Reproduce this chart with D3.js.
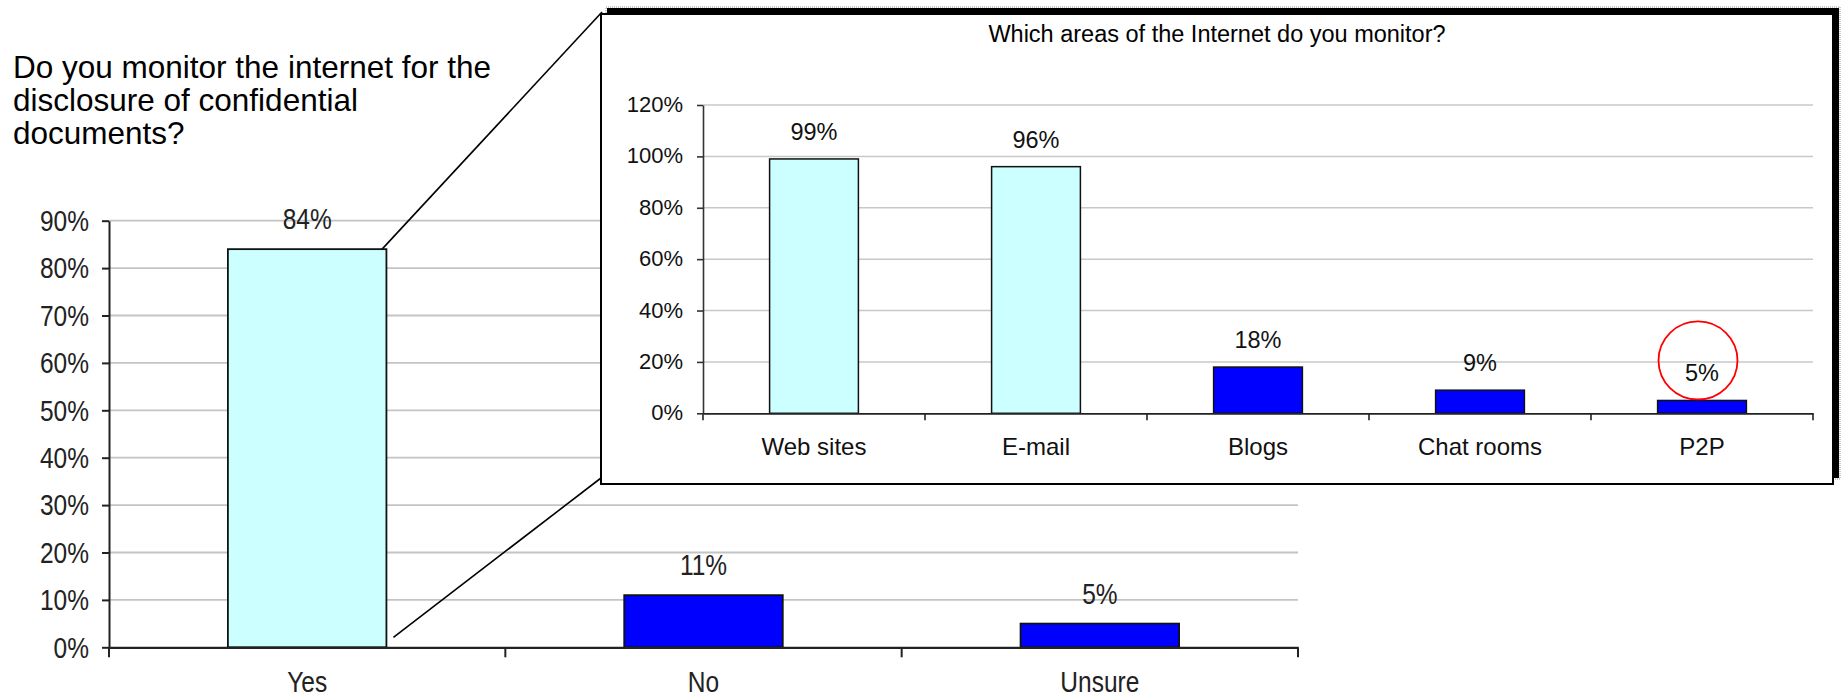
<!DOCTYPE html>
<html>
<head>
<meta charset="utf-8">
<script src="https://cdn.jsdelivr.net/npm/d3@7"></script>
<style>
  html, body { margin: 0; padding: 0; background: #fff; }
  svg { display: block; font-family: "Liberation Sans", Arial, sans-serif; }
</style>
</head>
<body>
<svg id="chart" width="1843" height="699"></svg>
<script>
// Main survey question
const mainQuestion = ["Do you monitor the internet for the", "disclosure of confidential", "documents?"];
const mainCategories = ["Yes", "No", "Unsure"];
const mainValues = [84, 11, 5];
const mainTicks = [0, 10, 20, 30, 40, 50, 60, 70, 80, 90];

// Follow-up question shown in the call-out panel
const areaTitle = "Which areas of the Internet do you monitor?";
const areaCategories = ["Web sites", "E-mail", "Blogs", "Chat rooms", "P2P"];
const areaValues = [99, 96, 18, 9, 5];
const areaTicks = [0, 20, 40, 60, 80, 100, 120];
const circledArea = "P2P";

const LIGHT = "#ccffff", DARK = "#0000ff";
const fillFor = v => v >= 50 ? LIGHT : DARK;
const pct = v => v + "%";

const svg = d3.select("#chart");

// ---------- main chart ----------
const M = { left: 109, right: 1298, top: 220.7, bottom: 647.3 };
const mainStretch = 1.2;      // tall, narrow lettering of the main chart

const x1 = d3.scaleBand().domain(mainCategories).range([M.left, M.right])
  .paddingInner(0.6).paddingOuter(0.3);
const y1 = d3.scaleLinear().domain([0, 90]).range([M.bottom, M.top]);

// question text
svg.append("text")
  .attr("font-size", 31.5).attr("fill", "#000")
  .selectAll("tspan").data(mainQuestion).join("tspan")
  .attr("x", 13).attr("y", (d, i) => 78 + i * 33)
  .text(d => d);

const g1 = svg.append("g");

// gridlines
g1.append("g").selectAll("line").data(mainTicks.filter(t => t > 0)).join("line")
  .attr("x1", M.left).attr("x2", M.right)
  .attr("y1", d => y1(d)).attr("y2", d => y1(d))
  .attr("stroke", "#c4c4c4").attr("stroke-width", 1.8);

// connector lines from the "Yes" bar to the call-out panel
const yesRight = x1("Yes") + x1.bandwidth();
g1.append("line")
  .attr("x1", yesRight - 9).attr("y1", y1(mainValues[0]) + 5)
  .attr("x2", 602).attr("y2", 12)
  .attr("stroke", "#000").attr("stroke-width", 1.6);
g1.append("line")
  .attr("x1", yesRight + 7).attr("y1", y1(0) - 10)
  .attr("x2", 601).attr("y2", 478)
  .attr("stroke", "#000").attr("stroke-width", 1.6);

// bars
g1.append("g").selectAll("rect").data(mainCategories).join("rect")
  .attr("x", d => x1(d)).attr("width", x1.bandwidth())
  .attr("y", (d, i) => y1(mainValues[i]))
  .attr("height", (d, i) => y1(0) - y1(mainValues[i]))
  .attr("fill", (d, i) => fillFor(mainValues[i]))
  .attr("stroke", "#111").attr("stroke-width", 1.8);

// value labels
g1.append("g").selectAll("text").data(mainCategories).join("text")
  .attr("transform", (d, i) => `translate(${x1(d) + x1.bandwidth() / 2},${y1(mainValues[i]) - 20}) scale(1,${mainStretch})`)
  .attr("text-anchor", "middle").attr("font-size", 24.5).attr("fill", "#222")
  .text((d, i) => pct(mainValues[i]));

// y axis
const yAxis1 = g1.append("g").attr("transform", `translate(${M.left},0)`)
  .call(d3.axisLeft(y1).tickValues(mainTicks).tickFormat(pct)
    .tickSize(7).tickSizeOuter(0).tickPadding(13));
yAxis1.selectAll("path,line").attr("stroke", "#222").attr("stroke-width", 2);
yAxis1.selectAll("text")
  .attr("font-size", 24.5).attr("font-family", "Liberation Sans, Arial, sans-serif")
  .attr("fill", "#222").attr("dy", "0.33em")
  .attr("transform", `scale(1,${mainStretch})`);

// x axis: category names centred in their bands
const xAxis1 = g1.append("g").attr("transform", `translate(0,${M.bottom})`)
  .call(d3.axisBottom(x1).tickSize(0).tickSizeOuter(0));
xAxis1.select(".domain").attr("stroke", "#222").attr("stroke-width", 2.2);
xAxis1.selectAll("text")
  .attr("font-size", 24.5).attr("font-family", "Liberation Sans, Arial, sans-serif")
  .attr("fill", "#222").attr("y", 0).attr("dy", 0)
  .attr("transform", `translate(0,44.5) scale(1,${mainStretch})`);

// category separators below the axis
const bounds1 = mainCategories.map(d => x1(d) - (x1.step() - x1.bandwidth()) / 2).concat([M.right]);
g1.append("g").selectAll("line").data(bounds1).join("line")
  .attr("x1", d => d).attr("x2", d => d)
  .attr("y1", M.bottom).attr("y2", M.bottom + 10)
  .attr("stroke", "#222").attr("stroke-width", 2);

// ---------- call-out panel ----------
const P = { x: 601, y: 14, w: 1232, h: 470, shadow: 6 };

svg.append("rect")
  .attr("x", P.x + P.shadow - 1).attr("y", P.y - P.shadow - 1)
  .attr("width", P.w + 2).attr("height", P.h + 2)
  .attr("fill", "none").attr("stroke", "#999").attr("stroke-width", 1)
  .attr("stroke-dasharray", "1,1");
svg.append("rect")
  .attr("x", P.x + P.shadow).attr("y", P.y - P.shadow)
  .attr("width", P.w).attr("height", P.h).attr("fill", "#000");
svg.append("rect")
  .attr("x", P.x).attr("y", P.y).attr("width", P.w).attr("height", P.h)
  .attr("fill", "#fff").attr("stroke", "#000").attr("stroke-width", 2);

const A = { left: 703, right: 1813, top: 105, bottom: 413.3 };
const x2 = d3.scaleBand().domain(areaCategories).range([A.left, A.right])
  .paddingInner(0.6).paddingOuter(0.3);
const y2 = d3.scaleLinear().domain([0, 120]).range([A.bottom, A.top]);

const g2 = svg.append("g");

g2.append("text")
  .attr("x", P.x + P.w / 2).attr("y", 42).attr("text-anchor", "middle")
  .attr("font-size", 23.5).attr("fill", "#000")
  .text(areaTitle);

g2.append("g").selectAll("line").data(areaTicks.filter(t => t > 0)).join("line")
  .attr("x1", A.left).attr("x2", A.right)
  .attr("y1", d => y2(d)).attr("y2", d => y2(d))
  .attr("stroke", "#c8c8c8").attr("stroke-width", 1.5);

g2.append("g").selectAll("rect").data(areaCategories).join("rect")
  .attr("x", d => x2(d)).attr("width", x2.bandwidth())
  .attr("y", (d, i) => y2(areaValues[i]))
  .attr("height", (d, i) => y2(0) - y2(areaValues[i]))
  .attr("fill", (d, i) => fillFor(areaValues[i]))
  .attr("stroke", "#111").attr("stroke-width", 1.5);

g2.append("g").selectAll("text").data(areaCategories).join("text")
  .attr("x", d => x2(d) + x2.bandwidth() / 2)
  .attr("y", (d, i) => y2(areaValues[i]) - 19)
  .attr("text-anchor", "middle").attr("font-size", 23.5).attr("fill", "#111")
  .text((d, i) => pct(areaValues[i]));

// red ring around the highlighted label
const ci = areaCategories.indexOf(circledArea);
g2.append("ellipse")
  .attr("cx", x2(circledArea) + x2.bandwidth() / 2 - 4)
  .attr("cy", y2(areaValues[ci]) - 40)
  .attr("rx", 39.5).attr("ry", 39)
  .attr("fill", "none").attr("stroke", "#ff0000").attr("stroke-width", 1.8);

const yAxis2 = g2.append("g").attr("transform", `translate(${A.left},0)`)
  .call(d3.axisLeft(y2).tickValues(areaTicks).tickFormat(pct)
    .tickSize(6).tickSizeOuter(0).tickPadding(14));
yAxis2.selectAll("path,line").attr("stroke", "#333").attr("stroke-width", 1.6);
yAxis2.selectAll("text")
  .attr("font-size", 22).attr("font-family", "Liberation Sans, Arial, sans-serif")
  .attr("fill", "#111").attr("dy", "0.3em");

const xAxis2 = g2.append("g").attr("transform", `translate(0,${A.bottom})`)
  .call(d3.axisBottom(x2).tickSize(0).tickSizeOuter(0));
xAxis2.select(".domain").attr("stroke", "#222").attr("stroke-width", 1.8);
xAxis2.selectAll("text")
  .attr("font-size", 24).attr("font-family", "Liberation Sans, Arial, sans-serif")
  .attr("fill", "#111").attr("y", 42).attr("dy", 0);

const bounds2 = areaCategories.map(d => x2(d) - (x2.step() - x2.bandwidth()) / 2).concat([A.right]);
g2.append("g").selectAll("line").data(bounds2).join("line")
  .attr("x1", d => d).attr("x2", d => d)
  .attr("y1", A.bottom).attr("y2", A.bottom + 7)
  .attr("stroke", "#222").attr("stroke-width", 1.6);
</script>
</body>
</html>
